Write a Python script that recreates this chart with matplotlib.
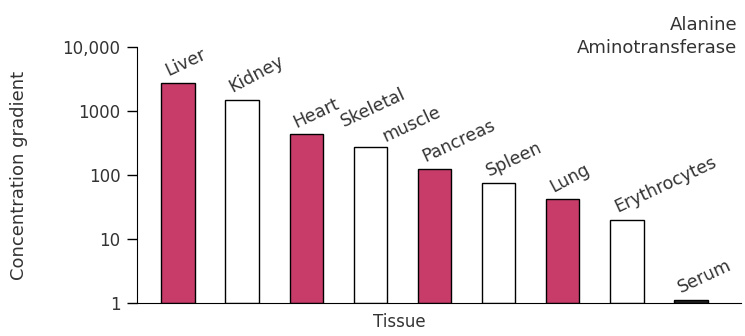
import matplotlib.pyplot as plt
from matplotlib.transforms import offset_copy
import numpy as np

tissues = ["Liver", "Kidney", "Heart", "Skeletal\nmuscle", "Pancreas",
           "Spleen", "Lung", "Erythrocytes", "Serum"]
gradient = [2750, 1500, 430, 270, 125, 75, 42, 20, 1.12]
filled = [True, False, True, False, True, False, True, False, None]
label_angle = [25, 28, 25, 25, 25, 25, 28, 25, 25]

pink = "#c83c6a"
txt = "#333333"

fig = plt.figure(figsize=(7.45, 3.36), dpi=100)
ax = fig.add_axes([137 / 745, 1 - 303 / 336, 604 / 745, 256 / 336])

x = np.arange(len(tissues))
colors = []
for f in filled:
    if f is None:
        colors.append("#222222")
    elif f:
        colors.append(pink)
    else:
        colors.append("white")

vals = np.array(gradient)
ax.bar(x, vals - 1, width=0.52, color=colors, edgecolor="black", linewidth=1.0, bottom=1)

ax.set_yscale("log")
ax.set_ylim(1, 10000)
ax.set_xlim(-0.64, len(tissues) - 1 + 0.78)
ax.set_yticks([1, 10, 100, 1000, 10000])
ax.set_yticklabels(["1", "10", "100", "1000", "10,000"])
ax.minorticks_off()
ax.set_xticks([])
ax.tick_params(axis="y", length=7, width=1, labelsize=12, labelcolor=txt, color="black", pad=5)
for s in ["top", "right"]:
    ax.spines[s].set_visible(False)

# rotated labels above the bars; offsets in points from bar top centre
for xi, v, name, a in zip(x, gradient, tissues, label_angle):
    lines = name.split("\n")
    if len(lines) == 1:
        offs = [(-7, 5)]
    else:
        offs = [(-19, 15), (11, 4)]
    for line, (dx, dy) in zip(lines, offs):
        tr = offset_copy(ax.transData, fig=fig, x=dx, y=dy, units="points")
        ax.text(xi, v, line, rotation=a, ha="left", va="baseline",
                fontsize=12.5, color=txt, rotation_mode="anchor", transform=tr)

ax.set_ylabel("Concentration gradient", fontsize=13, color=txt)
ax.yaxis.set_label_coords((28 - 137) / 604, 0.5)
ax.set_xlabel("Tissue", fontsize=12, color=txt)
ax.xaxis.set_label_coords((399 - 137) / 604, -10 / 256)
fig.text(0.99, 1 - 57 / 336, "Alanine\nAminotransferase", ha="right", va="bottom",
         fontsize=13, color=txt, linespacing=1.35, multialignment="right")

fig.savefig("out.png", dpi=100)
